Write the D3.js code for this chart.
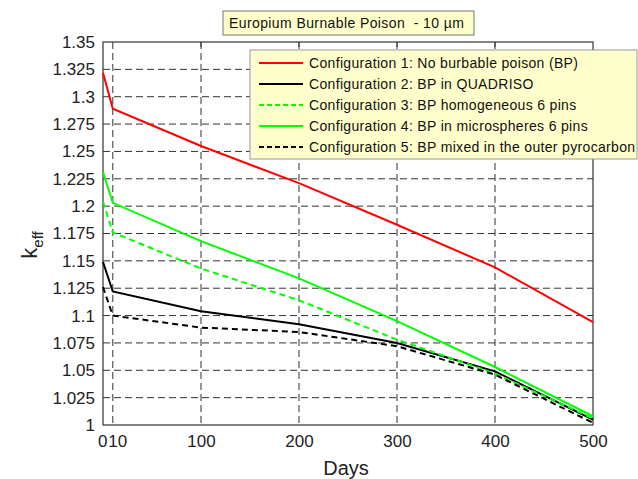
<!DOCTYPE html>
<html>
<head>
<meta charset="utf-8">
<script src="https://cdn.jsdelivr.net/npm/d3@7"></script>
<style>
  html, body { margin: 0; padding: 0; background: #fff; }
  svg { display: block; font-family: "Liberation Sans", Arial, sans-serif; }
</style>
</head>
<body>
<svg id="chart" width="638" height="479"></svg>
<script>
// Irradiation time (days) at which k_eff was computed
const days = [0, 10, 100, 200, 300, 400, 500];

// k_eff for each burnable-poison configuration
const config1 = [1.322, 1.289, 1.255, 1.221, 1.183, 1.144, 1.094];
const config2 = [1.149, 1.122, 1.104, 1.092, 1.075, 1.049, 1.005];
const config3 = [1.204, 1.176, 1.143, 1.114, 1.078, 1.047, 1.006];
const config4 = [1.231, 1.203, 1.168, 1.134, 1.095, 1.053, 1.008];
const config5 = [1.126, 1.100, 1.089, 1.085, 1.072, 1.046, 1.002];

const seriesNames = [
  "Configuration 1: No burbable poison (BP)",
  "Configuration 2: BP in QUADRISO",
  "Configuration 3: BP homogeneous 6 pins",
  "Configuration 4: BP in microspheres 6 pins",
  "Configuration 5: BP mixed in the outer pyrocarbon"
];

const xTicks = [0, 10, 100, 200, 300, 400, 500];
const yTicks = [1, 1.025, 1.05, 1.075, 1.1, 1.125, 1.15, 1.175, 1.2, 1.225, 1.25, 1.275, 1.3, 1.325, 1.35];

const chartTitle = "Europium Burnable Poison  - 10 \u00b5m";

const series = [
  { name: seriesNames[0], values: config1, color: "#ff0000", dash: null },
  { name: seriesNames[1], values: config2, color: "#000000", dash: null },
  { name: seriesNames[2], values: config3, color: "#00ff00", dash: "6,4" },
  { name: seriesNames[3], values: config4, color: "#00ff00", dash: null },
  { name: seriesNames[4], values: config5, color: "#000000", dash: "6,4" }
];

const svg = d3.select("#chart");
const plot = { left: 103, right: 593, top: 42, bottom: 425 };

const x = d3.scaleLinear().domain([0, 500]).range([plot.left, plot.right]);
const y = d3.scaleLinear().domain([1, 1.35]).range([plot.bottom, plot.top]);

// dashed grid
const grid = svg.append("g");
grid.selectAll("line.gx").data(xTicks.filter(d => d > 0 && d < 500)).join("line")
  .attr("x1", d => x(d)).attr("x2", d => x(d))
  .attr("y1", plot.top).attr("y2", plot.bottom)
  .attr("stroke", "#333").attr("stroke-width", 1).attr("stroke-dasharray", "7,4");
grid.selectAll("line.gy").data(yTicks.filter(d => d > 1 && d < 1.35)).join("line")
  .attr("x1", plot.left).attr("x2", plot.right)
  .attr("y1", d => y(d)).attr("y2", d => y(d))
  .attr("stroke", "#333").attr("stroke-width", 1).attr("stroke-dasharray", "7,4");

// axes
const xAxis = d3.axisBottom(x).tickValues(xTicks).tickFormat(d3.format("d")).tickSize(0).tickPadding(10);
const gx = svg.append("g").attr("transform", `translate(0,${plot.bottom})`).call(xAxis);
gx.select(".domain").remove();
gx.selectAll("text").attr("font-size", 17).attr("fill", "#222")
  .attr("font-family", "Liberation Sans, Arial, sans-serif");
// the 0 and 10 labels sit side by side
gx.selectAll(".tick").filter(d => d === 0).select("text").attr("text-anchor", "end").attr("dx", 4);
gx.selectAll(".tick").filter(d => d === 10).select("text").attr("text-anchor", "start").attr("dx", -5);

const yAxis = d3.axisLeft(y).tickValues(yTicks).tickFormat(d => String(+d.toFixed(3))).tickSize(0).tickPadding(8);
const gy = svg.append("g").attr("transform", `translate(${plot.left},0)`).call(yAxis);
gy.select(".domain").remove();
gy.selectAll("text").attr("font-size", 17).attr("fill", "#222")
  .attr("font-family", "Liberation Sans, Arial, sans-serif");

// small inward ticks on the top edge
svg.append("g").selectAll("line").data(xTicks.filter(d => d > 10 && d < 500)).join("line")
  .attr("x1", d => x(d)).attr("x2", d => x(d))
  .attr("y1", plot.top).attr("y2", plot.top + 5)
  .attr("stroke", "#333");

// frame
svg.append("rect")
  .attr("x", plot.left).attr("y", plot.top)
  .attr("width", plot.right - plot.left).attr("height", plot.bottom - plot.top)
  .attr("fill", "none").attr("stroke", "#333").attr("stroke-width", 1.2);

// data lines
const line = d3.line().x((d, i) => x(days[i])).y(d => y(d));
svg.append("g").selectAll("path").data(series).join("path")
  .attr("d", s => line(s.values))
  .attr("fill", "none")
  .attr("stroke", s => s.color)
  .attr("stroke-width", 2)
  .attr("stroke-dasharray", s => s.dash);

// legend
const lg = svg.append("g");
lg.append("rect").attr("x", 250).attr("y", 50).attr("width", 387).attr("height", 109)
  .attr("fill", "#ffffcc").attr("stroke", "#999").attr("stroke-width", 1);
const rows = lg.selectAll("g.row").data(series).join("g")
  .attr("transform", (d, i) => `translate(0,${63 + i * 21})`);
rows.append("line").attr("x1", 259).attr("x2", 303).attr("y1", 0).attr("y2", 0)
  .attr("stroke", d => d.color).attr("stroke-width", 2).attr("stroke-dasharray", d => d.dash ? "5,3" : null);
rows.append("text").attr("x", 309).attr("y", 5).attr("font-size", 14)
  .attr("letter-spacing", 0.33).attr("fill", "#111")
  .text(d => d.name);

// title box
const tg = svg.append("g");
tg.append("rect").attr("x", 223).attr("y", 11).attr("width", 251).attr("height", 24)
  .attr("fill", "#ffffcc").attr("stroke", "#777").attr("stroke-width", 1);
tg.append("text").attr("x", 229).attr("y", 28)
  .attr("font-size", 14).attr("letter-spacing", 0.4).attr("fill", "#111")
  .style("white-space", "pre").text(chartTitle);

// axis titles
svg.append("text").attr("x", 346).attr("y", 475).attr("text-anchor", "middle")
  .attr("font-size", 20).attr("fill", "#222").text("Days");
const yl = svg.append("text").attr("transform", "translate(37,245) rotate(-90)")
  .attr("text-anchor", "middle").attr("font-size", 22).attr("fill", "#222");
yl.append("tspan").text("k");
yl.append("tspan").attr("font-size", 15).attr("dy", 6).text("eff");
</script>
</body>
</html>
